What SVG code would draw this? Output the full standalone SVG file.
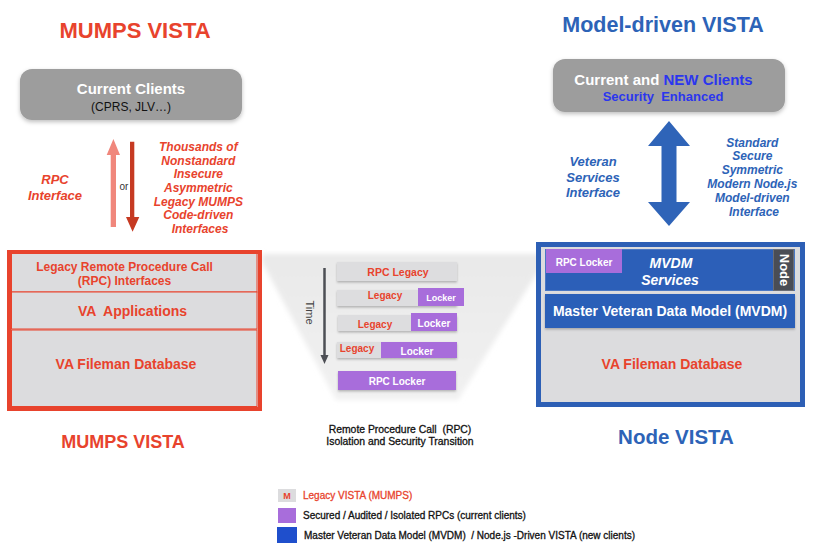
<svg xmlns="http://www.w3.org/2000/svg" width="814" height="548" viewBox="0 0 814 548">
<defs>
<style>
text{font-family:"Liberation Sans",Arial,Helvetica,sans-serif;}
.b{font-weight:bold;}
.bi{font-weight:bold;font-style:italic;}
.red{fill:#e8432d;}
.blu{fill:#2d63b7;}
.nb{fill:#2b36ee;}
.w{fill:#ffffff;}
.c{text-anchor:middle;}
.gbox{fill:#dddddf;}
.pur{fill:#a86ddb;}
.thick{stroke-width:0.3px;}
</style>
<filter id="sh" x="-10%" y="-20%" width="120%" height="150%">
<feDropShadow dx="0" dy="2" stdDeviation="2" flood-color="#000" flood-opacity="0.25"/>
</filter>
<filter id="sh2" x="-10%" y="-30%" width="120%" height="170%">
<feDropShadow dx="0" dy="1.5" stdDeviation="1.2" flood-color="#000" flood-opacity="0.25"/>
</filter>
<filter id="blur" x="-20%" y="-20%" width="140%" height="140%">
<feGaussianBlur stdDeviation="2.5"/>
</filter>
<linearGradient id="trap" x1="0" y1="0" x2="0" y2="1">
<stop offset="0" stop-color="#e9e9e9"/>
<stop offset="1" stop-color="#f1f1f1"/>
</linearGradient>
</defs>
<rect width="814" height="548" fill="#ffffff"/>

<!-- titles -->
<text class="b red c" x="135" y="38" font-size="22">MUMPS VISTA</text>
<text class="b blu c" x="663" y="32" font-size="21.5">Model-driven VISTA</text>
<text class="b red c" x="123" y="448" font-size="18">MUMPS VISTA</text>
<text class="b blu c" x="676" y="444" font-size="20.5">Node VISTA</text>

<!-- transition backdrop -->
<polygon points="262,254 540,254 540,268 458,400 336,400 262,262" fill="url(#trap)" filter="url(#blur)"/>

<g id="connectors">
<polygon points="110.7,227 110.7,155 106.7,155 113.4,139 120,155 116,155 116,227" fill="#f0877c"/>
<polygon points="130,141.7 130,217 126,217 132.6,231.7 139.3,217 134.3,217 134.3,141.7" fill="#c63a22"/>
<polygon points="669,121 690,146 676.5,146 676.5,202 690,202 669,226 648,202 661.5,202 661.5,146 648,146" fill="#2f64b8"/>
<line x1="324.5" y1="268" x2="324.5" y2="356" stroke="#4d4f55" stroke-width="2.5"/>
<polygon points="320.5,355 328.5,355 324.5,364" fill="#4d4f55"/>
</g>

<g id="labels">
<text x="124" y="190" font-size="10" fill="#333" class="c">or</text>
<text class="bi red c" font-size="13"><tspan x="55" y="184">RPC</tspan><tspan x="55" y="199.5">Interface</tspan></text>
<text class="bi red c" font-size="12">
<tspan x="200" y="151">Thousands of</tspan>
<tspan x="200" y="164.7">Nonstandard</tspan>
<tspan x="200" y="178.4">Insecure</tspan>
<tspan x="200" y="192">Asymmetric</tspan>
<tspan x="200" y="205.7">Legacy MUMPS</tspan>
<tspan x="200" y="219.4">Code-driven</tspan>
<tspan x="200" y="233">Interfaces</tspan>
</text>
<text class="bi blu c" font-size="13"><tspan x="593" y="165.5">Veteran</tspan><tspan x="593" y="181.5">Services</tspan><tspan x="593" y="197">Interface</tspan></text>
<text class="bi blu c" font-size="12">
<tspan x="754" y="146.5">Standard</tspan>
<tspan x="754" y="160.4">Secure</tspan>
<tspan x="754" y="174.3">Symmetric</tspan>
<tspan x="754" y="188.2">Modern Node.js</tspan>
<tspan x="754" y="202.1">Model-driven</tspan>
<tspan x="754" y="216">Interface</tspan>
</text>
<text class="c thick" x="400" y="433" font-size="10.4" fill="#111" stroke="#111" xml:space="preserve">Remote Procedure Call  (RPC)</text>
<text class="c thick" x="400" y="445" font-size="10.4" fill="#111" stroke="#111">Isolation and Security Transition</text>
<text x="309.5" y="312.5" font-size="11" fill="#444" class="c" transform="rotate(90 309.5 312.5)" dy="3.5">Time</text>
</g>

<g id="current-clients">
<rect x="20" y="69" width="222" height="51" rx="12" fill="#9d9d9d" filter="url(#sh)"/>
<text class="b w c" x="131" y="94" font-size="15">Current Clients</text>
<text class="c" x="131" y="111" font-size="12" fill="#111">(CPRS, JLV…)</text>
</g>

<g id="new-clients">
<rect x="553" y="59" width="232" height="53" rx="12" fill="#9d9d9d" filter="url(#sh)"/>
<text class="b c" x="663.5" y="85" font-size="15"><tspan class="w">Current and </tspan><tspan class="nb">NEW Clients</tspan></text>
<text class="b nb c" x="663" y="101" font-size="13" xml:space="preserve">Security  Enhanced</text>
</g>

<g id="mumps-vista">
<rect x="9" y="252" width="251" height="157" fill="#dcdcde" stroke="#e8432d" stroke-width="4"/>
<rect x="11.5" y="253.5" width="245.5" height="38.5" fill="#dcdcde" stroke="#e8432d" stroke-width="1"/>
<rect x="11.5" y="292" width="245.5" height="37" fill="#dcdcde" stroke="#e8432d" stroke-width="1"/>
<rect x="11.5" y="330" width="245.5" height="76.5" fill="#dcdcde" stroke="#e8432d" stroke-width="1"/>
<text class="b red c" x="124.5" y="271" font-size="12">Legacy Remote Procedure Call</text>
<text class="b red c" x="124.5" y="284.5" font-size="12">(RPC) Interfaces</text>
<text class="b red c" x="132.5" y="316" font-size="14" xml:space="preserve">VA  Applications</text>
<text class="b red c" x="126" y="369" font-size="14">VA Fileman Database</text>
</g>

<g id="rpc-legacy">
<rect x="337" y="262" width="120" height="19" class="gbox" filter="url(#sh2)"/>
<text class="b red c" x="398" y="276" font-size="10.5">RPC Legacy</text>
</g>
<g id="transition-1">
<rect x="337" y="290" width="120" height="16" class="gbox" filter="url(#sh2)"/>
<rect x="418" y="288" width="46" height="18" class="pur"/>
<text class="b red c" x="385" y="298.5" font-size="10">Legacy</text>
<text class="b w c" x="441" y="300.5" font-size="9">Locker</text>
</g>
<g id="transition-2">
<rect x="338" y="315" width="119" height="16" class="gbox" filter="url(#sh2)"/>
<rect x="411" y="313" width="46" height="18" class="pur"/>
<text class="b red c" x="375" y="327.5" font-size="10">Legacy</text>
<text class="b w c" x="434" y="327" font-size="10">Locker</text>
</g>
<g id="transition-3">
<rect x="337" y="342" width="120" height="16" class="gbox" filter="url(#sh2)"/>
<rect x="381" y="342" width="76" height="16" class="pur"/>
<text class="b red c" x="357" y="352" font-size="10">Legacy</text>
<text class="b w c" x="417" y="355" font-size="10">Locker</text>
</g>
<g id="rpc-locker">
<rect x="338" y="371" width="118" height="19" class="pur" filter="url(#sh2)"/>
<text class="b w c" x="397" y="385" font-size="10">RPC Locker</text>
</g>

<g id="node-vista">
<rect x="538.5" y="244.5" width="264" height="160" fill="#dcdcde" stroke="#2d5fb5" stroke-width="5"/>
<rect x="545.5" y="249.5" width="249" height="41" fill="#2c5fb8" stroke="#4a78c4" stroke-width="1"/>
<rect x="546" y="249" width="76" height="24" class="pur"/>
<text class="b w c" x="584" y="265.5" font-size="10">RPC Locker</text>
<text class="bi w c" x="671" y="268" font-size="14">MVDM</text>
<text class="bi w c" x="670" y="285" font-size="14">Services</text>
<rect x="773.5" y="249.5" width="20" height="41" fill="#4a4d55" stroke="#6a6d75" stroke-width="1"/>
<text class="b w c" x="784" y="270" font-size="13" transform="rotate(90 784 270)" dy="4.5">Node</text>
<rect x="545" y="294" width="250" height="34" fill="#2c5fb8" filter="url(#sh2)"/>
<text class="b w c" x="670" y="315.5" font-size="14">Master Veteran Data Model (MVDM)</text>
<text class="b red c" x="672" y="369" font-size="14">VA Fileman Database</text>
</g>

<g id="legend">
<rect x="278" y="489" width="18" height="13" fill="#dcdcde"/>
<text class="b red c" x="287" y="499" font-size="9">M</text>
<text class="red thick" x="303" y="498.5" font-size="10" stroke="#e8432d">Legacy VISTA (MUMPS)</text>
<rect x="278" y="508" width="18" height="15" class="pur"/>
<text class="thick" x="303" y="518.5" font-size="10" fill="#111" stroke="#111">Secured / Audited / Isolated RPCs (current clients)</text>
<rect x="277" y="527" width="20" height="16" fill="#1f4fcc"/>
<text class="thick" x="304" y="538.5" font-size="10" fill="#111" stroke="#111" xml:space="preserve">Master Veteran Data Model (MVDM)  / Node.js -Driven VISTA (new clients)</text>
</g>
</svg>
